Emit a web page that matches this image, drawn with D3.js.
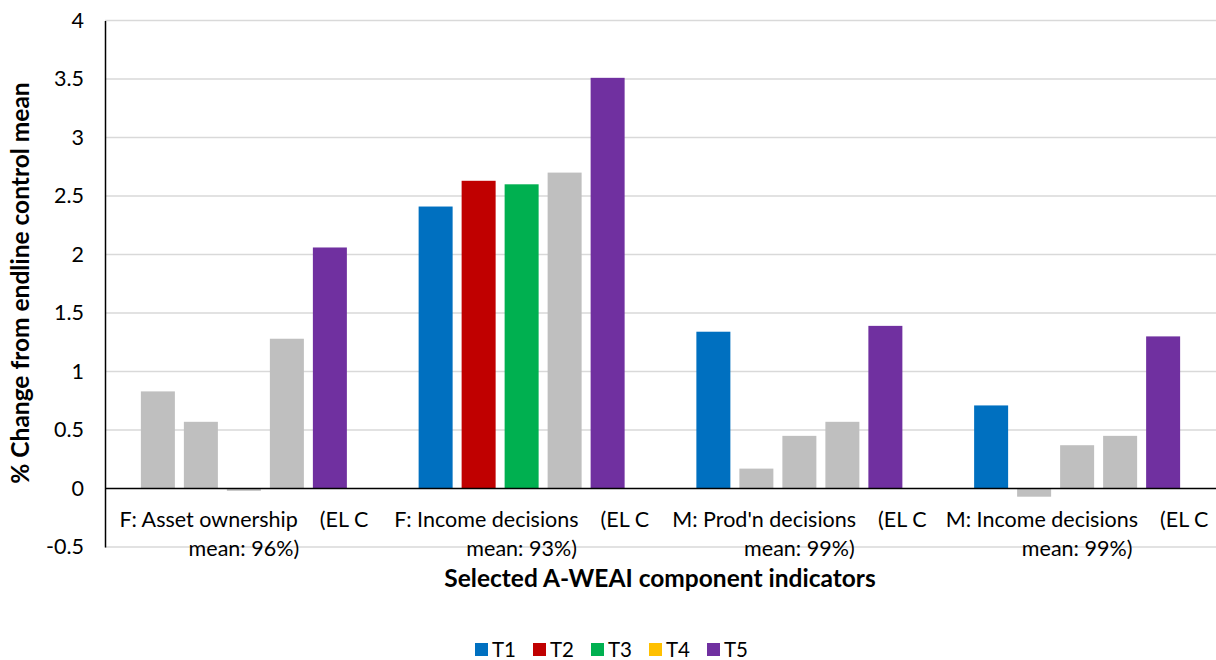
<!DOCTYPE html>
<html>
<head>
<meta charset="utf-8">
<script src="https://cdn.jsdelivr.net/npm/d3@7"></script>
<style>
  html, body { margin: 0; padding: 0; background: #fff; }
  svg { display: block; font-family: Lato, "Open Sans", sans-serif; }
  text { white-space: pre; }
</style>
</head>
<body>
<svg id="chart" width="1216" height="660"></svg>
<script>
// Category labels (wrapped onto two lines)
const categories = [
  ["F: Asset ownership    (EL C", "mean: 96%)"],
  ["F: Income decisions    (EL C", "mean: 93%)"],
  ["M: Prod'n decisions    (EL C", "mean: 99%)"],
  ["M: Income decisions    (EL C", "mean: 99%)"]
];
const seriesNames = ["T1", "T2", "T3", "T4", "T5"];
const seriesColors = ["#0070C0", "#C00000", "#00B050", "#FFC000", "#7030A0"];
const insignificantColor = "#BFBFBF";

// % change from endline control mean, per treatment arm
const t1 = [0.83, 2.41, 1.34, 0.71];
const t2 = [0.57, 2.63, 0.17, -0.07];
const t3 = [-0.02, 2.60, 0.45, 0.37];
const t4 = [1.28, 2.70, 0.57, 0.45];
const t5 = [2.06, 3.51, 1.39, 1.30];

// Whether each estimate is statistically significant (coloured) or not (grey)
const sigT1 = [false, true, true, true];
const sigT2 = [false, true, false, false];
const sigT3 = [false, true, false, false];
const sigT4 = [false, false, false, false];
const sigT5 = [true, true, true, true];

const yTicks = [-0.5, 0, 0.5, 1, 1.5, 2, 2.5, 3, 3.5, 4];

const seriesValues = [t1, t2, t3, t4, t5];
const seriesSig = [sigT1, sigT2, sigT3, sigT4, sigT5];

const svg = d3.select("#chart");
const plot = { left: 105, right: 1216, top: 20.5, bottom: 547 };

const y = d3.scaleLinear().domain([-0.5, 4]).range([plot.bottom, plot.top]);
const x0 = d3.scaleBand().domain(d3.range(categories.length))
  .range([plot.left, plot.right]).paddingInner(0).paddingOuter(0);
const groupInner = 206;
const x1 = d3.scaleBand().domain(seriesNames)
  .range([0, groupInner]).paddingInner(9 / 43).paddingOuter(0);

// Gridlines
svg.append("g")
  .selectAll("line")
  .data(yTicks.filter(d => d !== 0))
  .join("line")
  .attr("x1", plot.left).attr("x2", plot.right)
  .attr("y1", d => y(d)).attr("y2", d => y(d))
  .attr("stroke", "#D9D9D9").attr("stroke-width", 1.5);

// Y axis
const yAxis = d3.axisLeft(y).tickValues(yTicks).tickSize(0).tickPadding(21)
  .tickFormat(d => String(d));
const gy = svg.append("g").attr("transform", `translate(${plot.left},0)`).call(yAxis);
gy.select(".domain").attr("stroke", "#000").attr("stroke-width", 1.5);
gy.selectAll("text").attr("font-size", 21.5).attr("fill", "#000")
  .attr("font-family", "Lato, sans-serif");

// Bars
const bars = [];
categories.forEach((c, ci) => {
  seriesNames.forEach((s, si) => {
    bars.push({ ci, si, s, v: seriesValues[si][ci], sig: seriesSig[si][ci] });
  });
});
svg.append("g")
  .selectAll("rect")
  .data(bars)
  .join("rect")
  .attr("x", d => x0(d.ci) + (x0.bandwidth() - groupInner) / 2 + x1(d.s))
  .attr("width", x1.bandwidth())
  .attr("y", d => y(Math.max(0, d.v)))
  .attr("height", d => Math.abs(y(d.v) - y(0)))
  .attr("fill", d => d.sig ? seriesColors[d.si] : insignificantColor);

// Zero (category) axis line
svg.append("line")
  .attr("x1", plot.left).attr("x2", plot.right)
  .attr("y1", y(0)).attr("y2", y(0))
  .attr("stroke", "#000").attr("stroke-width", 1.5);

// Category labels
const catG = svg.append("g");
categories.forEach((lines, ci) => {
  const cx = x0(ci) + x0.bandwidth() / 2;
  lines.forEach((ln, li) => {
    catG.append("text")
      .attr("x", cx).attr("y", 527 + li * 29)
      .attr("text-anchor", "middle")
      .attr("font-size", 21.5).attr("fill", "#000")
      .text(ln);
  });
});

// Axis titles
svg.append("text")
  .attr("x", 660).attr("y", 587)
  .attr("text-anchor", "middle").attr("font-weight", "bold")
  .attr("font-size", 24.5).attr("fill", "#000")
  .text("Selected A-WEAI component indicators");

svg.append("text")
  .attr("transform", `translate(29,283) rotate(-90)`)
  .attr("text-anchor", "middle").attr("font-weight", "bold")
  .attr("font-size", 24.5).attr("fill", "#000")
  .text("% Change from endline control mean");

// Legend
const legendStep = 58;
const legend = svg.append("g").attr("transform", "translate(475,643)");
const li = legend.selectAll("g").data(seriesNames).join("g")
  .attr("transform", (d, i) => `translate(${i * legendStep},0)`);
li.append("rect").attr("width", 13).attr("height", 13)
  .attr("fill", (d, i) => seriesColors[i]);
li.append("text").attr("x", 17).attr("y", 14)
  .attr("font-size", 20.5).attr("fill", "#000").text(d => d);
</script>
</body>
</html>
